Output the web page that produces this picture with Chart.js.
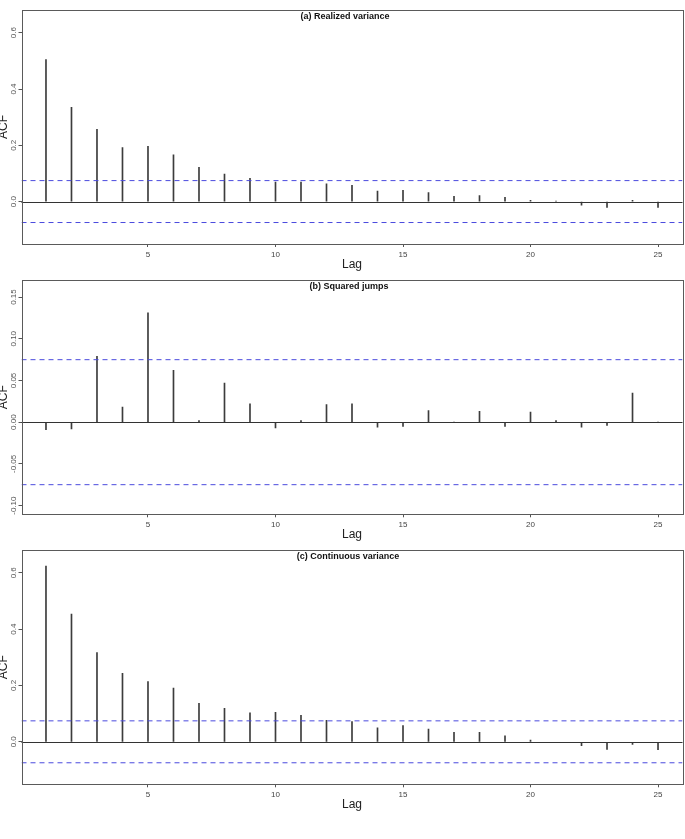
<!DOCTYPE html>
<html><head><meta charset="utf-8">
<script src="https://cdn.jsdelivr.net/npm/chart.js@4.4.1/dist/chart.umd.min.js"></script>
<style>
html,body{margin:0;padding:0;background:#fff;width:685px;height:839px;overflow:hidden}
canvas{position:absolute;left:0}
</style></head>
<body>
<canvas id="pa" width="685" height="270" style="top:5px"></canvas>
<canvas id="pb" width="685" height="270" style="top:275px"></canvas>
<canvas id="pc" width="685" height="270" style="top:545px"></canvas>
<script>
const lags = [1,2,3,4,5,6,7,8,9,10,11,12,13,14,15,16,17,18,19,20,21,22,23,24,25];
const acfRealized = [0.505,0.335,0.257,0.192,0.196,0.166,0.122,0.098,0.083,0.069,0.069,0.063,0.058,0.037,0.040,0.032,0.019,0.021,0.015,0.004,0.001,-0.013,-0.021,0.004,-0.021];
const acfJumps = [-0.009,-0.008,0.079,0.018,0.131,0.062,0.002,0.047,0.022,-0.007,0.002,0.021,0.022,-0.006,-0.005,0.014,0.000,0.013,-0.005,0.012,0.002,-0.006,-0.004,0.035,0.000];
const acfContinuous = [0.624,0.453,0.317,0.243,0.214,0.191,0.137,0.119,0.103,0.105,0.094,0.076,0.072,0.050,0.058,0.045,0.034,0.034,0.021,0.006,-0.002,-0.014,-0.027,-0.009,-0.028];
const confBounds = [0.0745, 0.0749, 0.0744];
const titles = ["(a) Realized variance", "(b) Squared jumps", "(c) Continuous variance"];
const xTicks = [5,10,15,20,25];
const xRange = [0.04, 25.96];
const yRangeVar = [-0.1508, 0.6808];
const yRangeJumps = [-0.1104, 0.1704];
const yTicksVar = [0, 0.2, 0.4, 0.6];
const yTickLabelsVar = ["0.0","0.2","0.4","0.6"];
const yTicksJumps = [-0.10,-0.05,0,0.05,0.10,0.15];
const yTickLabelsJumps = ["-0.10","-0.05","0.00","0.05","0.10","0.15"];

const FONT = "'Liberation Sans', Arial, Helvetica, sans-serif";

const framePlugin = {
  id: 'frame',
  afterDatasetsDraw(chart, args, opts) {
    const {ctx, chartArea: a, scales} = chart;
    const y = scales.y;
    ctx.save();
    const z = Math.round(y.getPixelForValue(0)) + 0.5;
    ctx.strokeStyle = '#333';
    ctx.lineWidth = 1;
    ctx.beginPath(); ctx.moveTo(a.left, z); ctx.lineTo(a.right, z); ctx.stroke();
    ctx.strokeStyle = '#5a5a5a';
    ctx.strokeRect(Math.round(a.left) + 0.5, Math.round(a.top) + 0.5, Math.round(a.right - a.left), Math.round(a.bottom - a.top));
    ctx.fillStyle = '#555';
    ctx.font = '8px ' + FONT;
    ctx.textAlign = 'center';
    ctx.textBaseline = 'middle';
    opts.ticks.forEach((v, i) => {
      const py = y.getPixelForValue(v);
      ctx.save();
      ctx.translate(14, py);
      ctx.rotate(-Math.PI / 2);
      ctx.fillText(opts.labels[i], 0, 0);
      ctx.restore();
    });
    ctx.save();
    ctx.fillStyle = '#222';
    ctx.font = '12px ' + FONT;
    ctx.translate(7, (a.top + a.bottom) / 2);
    ctx.rotate(-Math.PI / 2);
    ctx.textAlign = 'center';
    ctx.textBaseline = 'alphabetic';
    ctx.fillText('ACF', 0, 0);
    ctx.restore();
    ctx.fillStyle = '#111';
    ctx.font = 'bold 9px ' + FONT;
    ctx.textAlign = 'center';
    ctx.textBaseline = 'middle';
    ctx.fillText(opts.title, opts.titleX, a.top + 6.7);
    ctx.restore();
  }
};

function makePanel(id, values, clim, yRange, yTicks, yLabels, title, titleX, plotH) {
  const canvas = document.getElementById(id);
  new Chart(canvas, {
    type: 'bar',
    data: {
      datasets: [
        {
          type: 'bar',
          data: lags.map((l, i) => ({x: l, y: values[i]})),
          backgroundColor: '#3c3c3c',
          borderWidth: 0,
          barThickness: 1,
          order: 2
        },
        {
          type: 'line',
          data: [{x: xRange[0], y: clim}, {x: xRange[1], y: clim}],
          borderColor: '#4a4ade',
          borderWidth: 1,
          borderDash: [5, 4],
          pointRadius: 0,
          fill: false,
          order: 1
        },
        {
          type: 'line',
          data: [{x: xRange[0], y: -clim}, {x: xRange[1], y: -clim}],
          borderColor: '#4a4ade',
          borderWidth: 1,
          borderDash: [5, 4],
          pointRadius: 0,
          fill: false,
          order: 1
        }
      ]
    },
    options: {
      responsive: false,
      animation: false,
      layout: {padding: {top: 5, right: 2.5, left: 0, bottom: 0}},
      plugins: {
        legend: {display: false},
        tooltip: {enabled: false},
        frame: {ticks: yTicks, labels: yLabels, title: title, titleX: titleX}
      },
      scales: {
        x: {
          type: 'linear',
          min: xRange[0], max: xRange[1],
          offset: false,
          afterBuildTicks: s => { s.ticks = xTicks.map(v => ({value: v})); },
          afterFit: s => { s.height = 270 - 5 - plotH; },
          ticks: {font: {size: 8, family: FONT}, color: '#444', padding: 3, maxRotation: 0, autoSkip: false},
          grid: {offset: false, drawOnChartArea: false, drawTicks: true, tickLength: 3, color: '#555'},
          border: {display: false},
          title: {display: true, text: 'Lag', font: {size: 12, family: FONT}, color: '#222', padding: {top: 0, bottom: 2.8}}
        },
        y: {
          type: 'linear',
          min: yRange[0], max: yRange[1],
          afterBuildTicks: s => { s.ticks = yTicks.map(v => ({value: v})); },
          afterFit: s => { s.width = 21.5; },
          ticks: {display: false},
          grid: {offset: false, drawOnChartArea: false, drawTicks: true, tickLength: 3, color: '#555'},
          border: {display: false}
        }
      }
    },
    plugins: [framePlugin]
  });
}

makePanel('pa', acfRealized, confBounds[0], yRangeVar, yTicksVar, yTickLabelsVar, titles[0], 345, 234);
makePanel('pb', acfJumps, confBounds[1], yRangeJumps, yTicksJumps, yTickLabelsJumps, titles[1], 349, 234.3);
makePanel('pc', acfContinuous, confBounds[2], yRangeVar, yTicksVar, yTickLabelsVar, titles[2], 348, 234.3);
</script>
</body></html>
